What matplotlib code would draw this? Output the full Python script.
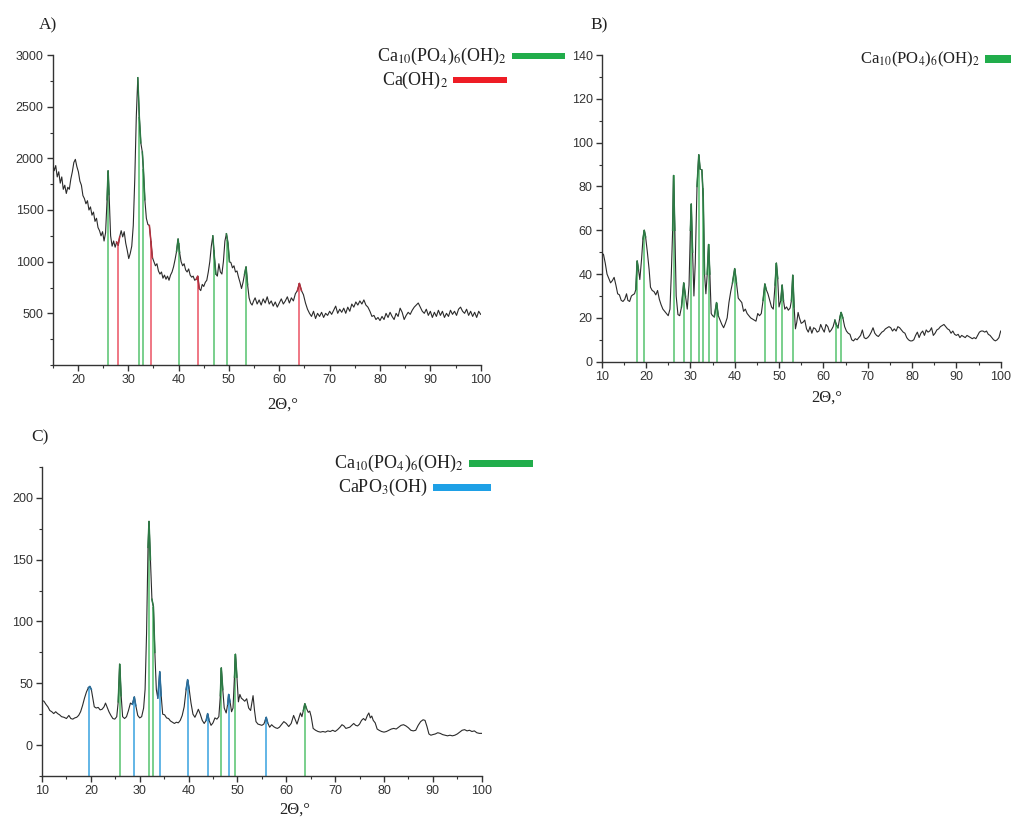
import numpy as np
import matplotlib
matplotlib.use('Agg')
import matplotlib.pyplot as plt
from matplotlib.patches import Rectangle
from matplotlib.ticker import MultipleLocator

plt.rcParams['font.family'] = ['Liberation Sans', 'DejaVu Sans']
plt.rcParams['mathtext.fontset'] = 'stix'

# --- A) діфрактограма ---
a_x = [15.0, 15.3, 15.6, 15.9, 16.2, 16.5, 16.8, 17.1, 17.4, 17.7,
       18.0, 18.3, 18.6, 18.9, 19.2, 19.5, 19.8, 20.1, 20.4, 20.7,
       21.0, 21.3, 21.6, 21.9, 22.2, 22.5, 22.8, 23.1, 23.4, 23.7,
       24.0, 24.3, 24.6, 24.9, 25.2, 25.5, 25.8, 26.0, 26.2, 26.5,
       26.8, 27.1, 27.4, 27.7, 28.0, 28.3, 28.6, 28.9, 29.2, 29.5,
       29.8, 30.1, 30.4, 30.7, 31.0, 31.3, 31.6, 31.9, 32.2, 32.5,
       32.8, 33.0, 33.3, 33.6, 33.9, 34.2, 34.5, 34.8, 35.1, 35.4,
       35.7, 36.0, 36.3, 36.6, 36.9, 37.2, 37.5, 37.8, 38.1, 38.4,
       38.7, 39.0, 39.3, 39.6, 39.9, 40.2, 40.5, 40.8, 41.1, 41.4,
       41.7, 42.0, 42.3, 42.6, 42.9, 43.2, 43.5, 43.8, 44.1, 44.4,
       44.7, 45.0, 45.3, 45.6, 45.9, 46.2, 46.5, 46.8, 47.1, 47.4,
       47.7, 48.0, 48.3, 48.6, 48.9, 49.2, 49.5, 49.8, 50.1, 50.4,
       50.7, 51.0, 51.3, 51.6, 51.9, 52.2, 52.5, 52.8, 53.1, 53.4,
       53.7, 54.0, 54.3, 54.6, 54.9, 55.2, 55.6, 56.0, 56.4, 56.8,
       57.2, 57.6, 58.0, 58.4, 58.8, 59.2, 59.6, 60.0, 60.4, 60.8,
       61.2, 61.6, 62.0, 62.4, 62.8, 63.2, 63.6, 64.0, 64.4, 64.8,
       65.2, 65.6, 66.0, 66.4, 66.8, 67.2, 67.6, 68.0, 68.4, 68.8,
       69.2, 69.6, 70.0, 70.4, 70.8, 71.2, 71.6, 72.0, 72.4, 72.8,
       73.2, 73.6, 74.0, 74.4, 74.8, 75.2, 75.6, 76.0, 76.4, 76.8,
       77.2, 77.6, 78.0, 78.4, 78.8, 79.2, 79.6, 80.0, 80.4, 80.8,
       81.2, 81.6, 82.0, 82.4, 82.8, 83.2, 83.6, 84.0, 84.4, 84.8,
       85.2, 85.6, 86.0, 86.4, 86.8, 87.2, 87.6, 88.0, 88.4, 88.8,
       89.2, 89.6, 90.0, 90.4, 90.8, 91.2, 91.6, 92.0, 92.4, 92.8,
       93.2, 93.6, 94.0, 94.4, 94.8, 95.2, 95.6, 96.0, 96.4, 96.8,
       97.2, 97.6, 98.0, 98.4, 98.8, 99.2, 99.6, 100.0]
a_y = [1950, 1880, 1930, 1820, 1870, 1760, 1820, 1700, 1740, 1660,
       1720, 1700, 1800, 1870, 1960, 1990, 1920, 1870, 1780, 1740,
       1640, 1610, 1560, 1590, 1500, 1530, 1450, 1480, 1390, 1420,
       1330, 1300, 1250, 1290, 1200, 1280, 1600, 1880, 1650, 1250,
       1150, 1200, 1140, 1190, 1160, 1240, 1300, 1240, 1290, 1180,
       1110, 1030, 1080, 1150, 1350, 1800, 2400, 2780, 2400, 2150,
       2060, 1900, 1600, 1420, 1360, 1350, 1200, 1040, 1000, 960,
       980, 910, 880, 900, 840, 870, 830, 860, 820, 870,
       900, 950, 1020, 1100, 1220, 1090, 1000, 960, 980, 920,
       900, 930, 870, 850, 860, 820, 830, 860, 740, 720,
       780, 760, 800, 820, 900, 1000, 1150, 1250, 1050, 880,
       860, 980, 900, 880, 1000, 1200, 1270, 1180, 1000, 990,
       940, 960, 900, 910, 850, 800, 740, 800, 880, 950,
       780, 650, 600, 580, 620, 650, 590, 630, 580, 640,
       600, 660, 590, 620, 570, 610, 560, 600, 640, 590,
       620, 660, 600, 650, 620, 690, 720, 790, 720, 680,
       600, 540, 500, 470, 520, 450, 500, 470, 510, 460,
       500, 480, 520, 490, 530, 570, 500, 540, 510, 550,
       500, 560, 520, 590, 560, 610, 580, 620, 590, 630,
       580, 560, 520, 470, 480, 440, 460, 430, 470, 440,
       500, 460, 510, 470, 440, 500, 470, 550, 510, 440,
       480, 510, 490, 530, 560, 580, 600, 560, 520, 500,
       540, 480, 520, 460, 510, 470, 530, 480, 520, 460,
       500, 470, 530, 490, 520, 480, 540, 560, 520, 500,
       540, 480, 520, 470, 510, 460, 520, 490]
a_hap = [26.0, 32.2, 33.0, 40.0, 47.0, 49.7, 53.4]   # Ca10(PO4)6(OH)2
a_caoh = [28.0, 34.5, 43.8, 64.0]                     # Ca(OH)2

# --- B) ---
b_x = [10.0, 10.4, 10.8, 11.2, 11.6, 12.0, 12.4, 12.8, 13.2, 13.6,
       14.0, 14.4, 14.8, 15.2, 15.6, 15.9, 16.3, 16.7, 17.0, 17.4,
       17.7, 18.0, 18.3, 18.6, 19.0, 19.3, 19.6, 19.9, 20.3, 20.7,
       21.0, 21.4, 21.8, 22.2, 22.6, 23.0, 23.4, 23.8, 24.2, 24.6,
       25.0, 25.4, 25.7, 26.0, 26.2, 26.5, 26.8, 27.2, 27.6, 28.0,
       28.5, 28.9, 29.3, 29.7, 30.0, 30.2, 30.5, 30.8, 31.1, 31.5,
       31.9, 32.2, 32.6, 32.9, 33.2, 33.5, 33.8, 34.1, 34.4, 34.7,
       35.0, 35.4, 35.9, 36.3, 36.7, 37.1, 37.5, 37.9, 38.3, 38.7,
       39.1, 39.5, 40.0, 40.4, 40.8, 41.2, 41.6, 42.0, 42.4, 42.8,
       43.2, 43.6, 44.0, 44.4, 44.8, 45.2, 45.6, 46.0, 46.4, 46.8,
       47.1, 47.5, 47.9, 48.3, 48.7, 49.1, 49.4, 49.7, 50.0, 50.4,
       50.7, 51.0, 51.3, 51.7, 52.1, 52.5, 52.8, 53.1, 53.4, 53.7,
       54.0, 54.3, 54.6, 55.0, 55.4, 55.8, 56.2, 56.6, 57.0, 57.4,
       57.8, 58.2, 58.6, 59.0, 59.4, 59.8, 60.2, 60.6, 61.0, 61.4,
       61.8, 62.2, 62.6, 62.9, 63.3, 63.7, 64.0, 64.4, 64.8, 65.2,
       65.6, 66.0, 66.4, 66.8, 67.2, 67.6, 68.0, 68.4, 68.8, 69.2,
       69.6, 70.0, 70.4, 70.8, 71.2, 71.6, 72.0, 72.4, 72.8, 73.2,
       73.6, 74.0, 74.4, 74.8, 75.2, 75.6, 76.0, 76.4, 76.8, 77.2,
       77.6, 78.0, 78.4, 78.8, 79.2, 79.6, 80.0, 80.4, 80.8, 81.2,
       81.6, 82.0, 82.4, 82.8, 83.2, 83.6, 84.0, 84.4, 84.8, 85.2,
       85.6, 86.0, 86.4, 86.8, 87.2, 87.6, 88.0, 88.4, 88.8, 89.2,
       89.6, 90.0, 90.4, 90.8, 91.2, 91.6, 92.0, 92.4, 92.8, 93.2,
       93.6, 94.0, 94.4, 94.8, 95.2, 95.6, 96.0, 96.4, 96.8, 97.2,
       97.6, 98.0, 98.4, 98.8, 99.2, 99.6, 100.0]
b_y = [49.5, 49, 45, 40, 38, 36, 37, 38.5, 35, 31,
       30.5, 28, 27.5, 28.5, 31, 28, 27.5, 30, 30.5, 31,
       33, 46, 42, 37.5, 47, 56, 60, 57, 50, 42,
       34, 32.5, 32, 30.5, 32.5, 28.5, 26, 24, 23, 22,
       21, 24, 40, 60, 85, 60, 30, 21.5, 21, 25,
       36, 30, 24, 35, 60, 72, 50, 30, 45, 80,
       94.5, 88, 87.5, 75, 40, 31, 40, 53.5, 40, 22,
       21, 20.5, 27, 21, 19, 17, 15.5, 17.5, 20, 27,
       32, 36, 42.5, 36, 29, 28, 27, 23, 24, 22,
       21, 20, 19.5, 19, 18.5, 22, 21, 22, 28, 35.5,
       33, 31, 28, 25, 24, 35, 45, 38, 25, 28,
       35, 28, 24, 25, 23.5, 24.5, 28, 39.5, 25, 15,
       18, 22.5, 20, 17.5, 18, 19, 15, 13.5, 16, 13,
       15.5, 15, 13.5, 14, 17, 15, 13.5, 17, 16, 13.5,
       14.5, 16, 19, 17, 15.5, 20, 22.5, 20, 16, 14,
       13, 12.5, 10, 9.5, 10.5, 10, 11, 12, 14.5, 11,
       10.5, 11, 12, 13.5, 15.5, 13, 12, 11.5, 12.5, 13.5,
       14, 15, 15.5, 16, 15.5, 14, 15, 14, 16, 15.5,
       14.5, 13.5, 13, 11, 10, 9.5, 9.5, 10, 12, 13.5,
       11, 13, 14, 12, 14.5, 13.5, 14, 15.5, 12, 13,
       14.5, 15, 16, 16.5, 17, 16, 15, 14.5, 13, 14,
       12.5, 12, 12.5, 11, 12, 11.5, 11, 12, 11.5, 11,
       10.5, 11, 10.5, 12, 13.5, 14, 14, 13.5, 14, 12.5,
       12, 11, 10, 9.5, 10, 11, 14]
b_hap = [18.0, 19.6, 26.2, 28.5, 30.2, 31.9, 32.8, 34.1, 35.9,
         40.0, 46.8, 49.4, 50.7, 53.1, 62.8, 64.0]

# --- C) ---
c_x = [10.0, 10.4, 10.8, 11.2, 11.6, 12.0, 12.4, 12.8, 13.2, 13.6,
       14.0, 14.5, 15.0, 15.5, 15.9, 16.3, 16.7, 17.1, 17.5, 17.9,
       18.3, 18.7, 19.1, 19.5, 19.8, 20.1, 20.4, 20.7, 21.1, 21.5,
       21.9, 22.3, 22.7, 23.0, 23.3, 23.7, 24.1, 24.5, 24.9, 25.3,
       25.6, 25.9, 26.2, 26.5, 26.9, 27.3, 27.7, 28.1, 28.5, 28.9,
       29.2, 29.6, 30.0, 30.4, 30.8, 31.1, 31.4, 31.7, 31.9, 32.2,
       32.5, 32.8, 33.1, 33.4, 33.7, 34.1, 34.4, 34.7, 35.1, 35.5,
       35.9, 36.3, 36.7, 37.1, 37.5, 37.9, 38.3, 38.7, 39.1, 39.5,
       39.8, 40.1, 40.5, 40.9, 41.3, 41.7, 42.0, 42.4, 42.8, 43.2,
       43.6, 43.9, 44.2, 44.6, 45.0, 45.4, 45.8, 46.2, 46.5, 46.7,
       47.0, 47.3, 47.7, 48.0, 48.2, 48.5, 48.8, 49.1, 49.4, 49.6,
       49.9, 50.2, 50.5, 50.8, 51.1, 51.5, 51.9, 52.3, 52.7, 53.0,
       53.2, 53.5, 53.8, 54.2, 54.6, 55.0, 55.4, 55.7, 55.9, 56.2,
       56.6, 57.0, 57.4, 57.8, 58.2, 58.6, 59.0, 59.5, 60.0, 60.5,
       61.0, 61.5, 61.9, 62.2, 62.6, 62.9, 63.2, 63.5, 63.8, 64.1,
       64.5, 64.8, 65.1, 65.5, 66.0, 66.5, 67.0, 67.5, 68.0, 68.5,
       69.0, 69.5, 70.0, 70.5, 71.0, 71.4, 71.8, 72.2, 72.6, 73.0,
       73.4, 73.8, 74.2, 74.6, 75.0, 75.4, 75.8, 76.2, 76.6, 76.9,
       77.2, 77.5, 77.8, 78.2, 78.6, 79.0, 79.5, 80.0, 80.5, 81.0,
       81.5, 82.0, 82.5, 83.0, 83.5, 84.0, 84.5, 85.0, 85.5, 86.0,
       86.5, 87.0, 87.5, 88.0, 88.4, 88.8, 89.2, 89.6, 90.0, 90.5,
       91.0, 91.5, 92.0, 92.5, 93.0, 93.5, 94.0, 94.5, 95.0, 95.5,
       96.0, 96.5, 97.0, 97.5, 98.0, 98.5, 99.0, 99.5, 100.0]
c_y = [36, 35.5, 33, 31, 28, 27, 25.5, 27, 25.5, 24.5,
       23, 22.5, 21.5, 24, 21.5, 21, 22, 22.5, 24, 27,
       32, 38, 43, 46.5, 47.5, 45, 38, 31, 30, 30.5,
       28.5, 29, 31, 34, 31, 27, 24, 21.5, 21, 23,
       35, 65.5, 40, 23, 21.5, 23, 28, 34, 33, 39,
       32, 24, 22, 23, 30, 45, 90, 160, 181, 150,
       118, 112, 75, 45, 38, 59.5, 40, 25, 24.5, 22,
       21.5, 19.5, 18.5, 17.5, 18.5, 18, 20, 24, 31, 45,
       53, 46, 34, 25, 22.5, 26, 29, 25, 20, 17.5,
       20, 25.5, 20, 16, 18, 22, 21, 23, 40, 62.5,
       45, 30, 26, 33, 41, 35, 27, 30, 55, 73.5,
       55, 35, 41, 38, 37, 35.5, 37.5, 30, 28, 35,
       40, 28, 19, 17, 16.5, 16, 17, 20, 22.5, 18,
       14.5, 16.5, 15, 14, 13.5, 14.5, 16.5, 19, 17.5, 15,
       17.5, 24, 20, 17, 22, 26, 23, 28, 33.5, 30,
       26.5, 27.5, 23, 13.5, 12, 11, 10.5, 11, 10.5, 11.5,
       11, 12, 11, 12.5, 14.5, 16.5, 15.5, 13.5, 14, 14.5,
       16, 17.5, 16, 15.5, 17, 20, 21.5, 20, 24, 26,
       22, 23.5, 20, 18, 13, 12, 11, 10.5, 11, 12,
       13, 13.5, 13, 14.5, 16, 16.5, 15.5, 14, 12, 11.5,
       12, 16, 19, 20.5, 20, 15, 9, 8, 8.5, 9,
       10, 9.5, 8.5, 8, 7.5, 8, 7.5, 8, 9, 10.5,
       12, 12.5, 11.5, 12, 11, 11.5, 10, 9.5, 9.5]
c_hap = [25.9, 31.9, 32.8, 46.7, 49.6, 63.8]          # Ca10(PO4)6(OH)2
c_brush = [19.7, 28.9, 34.1, 39.8, 43.9, 48.2, 55.9]  # CaPO3(OH)

GREEN = ('#79cf8c', '#2d7a45')
RED = ('#ef7784', '#b5303e')
BLUE = ('#62b6e6', '#2a6f9e')

W, H = 1011, 819
fig = plt.figure(figsize=(W / 100, H / 100), dpi=100)


def fx(px):
    return px / W


def fy(py):
    return 1 - py / H


def draw_panel(ax, x, y, phases, xlim, ylim, xstep, ystep, yticks):
    x = np.array(x, dtype=float)
    y = np.array(y, dtype=float)
    ax.plot(x, y, color='#2b2b2b', lw=0.8, zorder=3)
    for positions, (light, dark) in phases:
        tops = np.interp(positions, x, y)
        ax.vlines(positions, ylim[0], tops, colors=light, lw=1.4, zorder=2)
        # верхівки піків підсвічені кольором фази
        for p in positions:
            i = int(np.argmin(np.abs(x - p)))
            seg = slice(max(i - 1, 0), i + 2)
            ax.plot(x[seg], y[seg], color=dark, lw=1.1, zorder=4)

    ax.set_xlim(*xlim)
    ax.set_ylim(*ylim)
    ax.set_xticks(np.arange(xstep * np.ceil(xlim[0] / xstep), xlim[1] + 0.1, xstep))
    ax.xaxis.set_minor_locator(MultipleLocator(xstep / 2))
    ax.set_yticks(yticks)
    ax.yaxis.set_minor_locator(MultipleLocator(ystep / 2))
    for side in ['top', 'right']:
        ax.spines[side].set_visible(False)
    for side in ['left', 'bottom']:
        ax.spines[side].set_color('#333333')
        ax.spines[side].set_linewidth(1.0)
    ax.tick_params(which='major', direction='out', length=4.5, width=1,
                   labelsize=9, colors='#333333', pad=2)
    ax.tick_params(which='minor', direction='out', length=2.5, width=0.8,
                   colors='#333333')


def legend_row(label, y_mid, x0, x1, h, color, size):
    # текст праворуч вирівняний до кольорової смуги
    fig.text(fx(x0 - 5), fy(y_mid), label, family='Liberation Serif',
             fontsize=size, va='center', ha='right', color='#222222')
    fig.add_artist(Rectangle((fx(x0), fy(y_mid + h / 2)), fx(x1) - fx(x0), h / H,
                             transform=fig.transFigure, color=color, lw=0))


HAP = r'Ca$_{10}$(PO$_4$)$_6$(OH)$_2$'

ax_a = fig.add_axes([fx(52.7), fy(365), fx(428), 310 / H])
draw_panel(ax_a, a_x, a_y, [(a_hap, GREEN), (a_caoh, RED)],
           (15, 100), (0, 3000), 10, 500, np.arange(500, 3001, 500))

ax_b = fig.add_axes([fx(601.7), fy(361.7), fx(399), 306.7 / H])
draw_panel(ax_b, b_x, b_y, [(b_hap, GREEN)],
           (10, 100), (0, 140), 10, 20, np.arange(0, 141, 20))

ax_c = fig.add_axes([fx(42), fy(776), fx(439.7), 309 / H])
draw_panel(ax_c, c_x, c_y, [(c_hap, GREEN), (c_brush, BLUE)],
           (10, 100), (-25, 225), 10, 50, np.arange(0, 201, 50))

# підписи панелей та осей
for lab, px, py in [('A)', 48, 25), ('B)', 599, 25), ('C)', 40, 437)]:
    fig.text(fx(px), fy(py), lab, family='Liberation Serif', fontsize=12.5,
             ha='center', va='center', color='#222222')
for px, py in [(283, 405), (827, 398), (295, 810)]:
    fig.text(fx(px), fy(py), '2Θ,°', family='Liberation Serif', fontsize=12,
             ha='center', va='center', color='#222222')

# легенди
legend_row(HAP, 56, 512, 565, 6, '#21ad4b', 13)
legend_row(r'Ca(OH)$_2$', 80, 453, 507, 6, '#ee1c25', 13)
legend_row(HAP, 59, 985, 1011, 8, '#21ad4b', 12)
legend_row(HAP, 463, 469, 533, 7, '#21ad4b', 13)
legend_row(r'CaPO$_3$(OH)', 487, 433, 491, 7, '#1ea0e6', 13)

fig.savefig('out.png', dpi=100, facecolor='white')
